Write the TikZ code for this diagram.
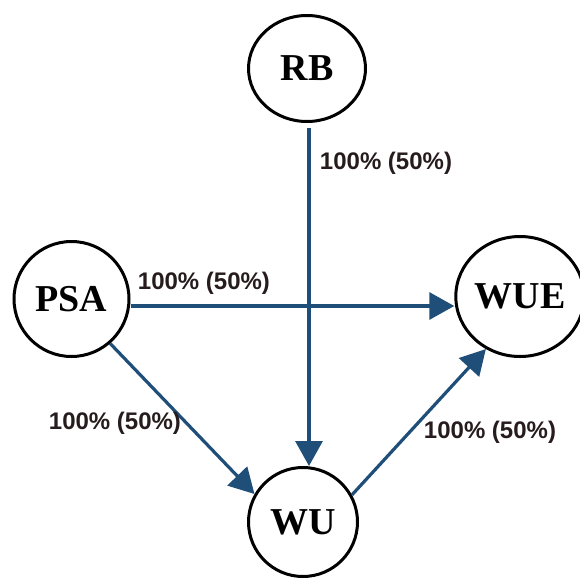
\documentclass[tikz,border=0pt]{standalone}
\usepackage{fontspec}
\setmainfont{Liberation Serif}
\newfontfamily\lblfont{Liberation Sans}
\usetikzlibrary{shapes.geometric,arrows.meta}
\definecolor{edgeblue}{RGB}{31,78,121}
\definecolor{lblcol}{RGB}{38,28,30}
\tikzset{
  var/.style={draw=black, line width=3pt, ellipse, inner sep=0pt, fill=white,
    font=\fontsize{38}{40}\selectfont\bfseries},
  arr/.style={draw=edgeblue, line width=3.2pt,
    -{Triangle[length=25pt,width=27pt]}},
  lbl/.style={text=lblcol, inner sep=0pt, font=\lblfont\fontsize{24}{26}\selectfont\bfseries}
}
\begin{document}
\begin{tikzpicture}[x=1pt,y=-1pt]
\useasboundingbox (0,0) rectangle (579,581);
\node[var, minimum width=117pt, minimum height=106pt] (RB) at (307,68.5) {RB};
\node[var, minimum width=115pt, minimum height=115pt] (PSA) at (71.5,299) {PSA};
\node[var, minimum width=111pt, minimum height=120pt] (WUE) at (520,296.5) {WUE};
\node[var, minimum width=109pt, minimum height=109pt] (WU) at (303,522) {WU};
\draw[arr, shorten <=5pt] ([xshift=2pt]RB.south) -- ([xshift=2pt]RB.south |- WU.north);
\draw[arr] ([yshift=-7pt]PSA.east) -- ([yshift=-7pt]PSA.east -| WUE.west);
\draw[arr] (PSA.311) -- (WU.150);
\draw[arr] (WU.29) -- (WUE.237);
\node[lbl] (l1) at (386,163) {100\% (50\%)};
\node[lbl] (l2) at (204,283) {100\% (50\%)};
\node[lbl] (l3) at (115,423) {100\% (50\%)};
\node[lbl] (l4) at (490,432) {100\% (50\%)};
\end{tikzpicture}
\end{document}
